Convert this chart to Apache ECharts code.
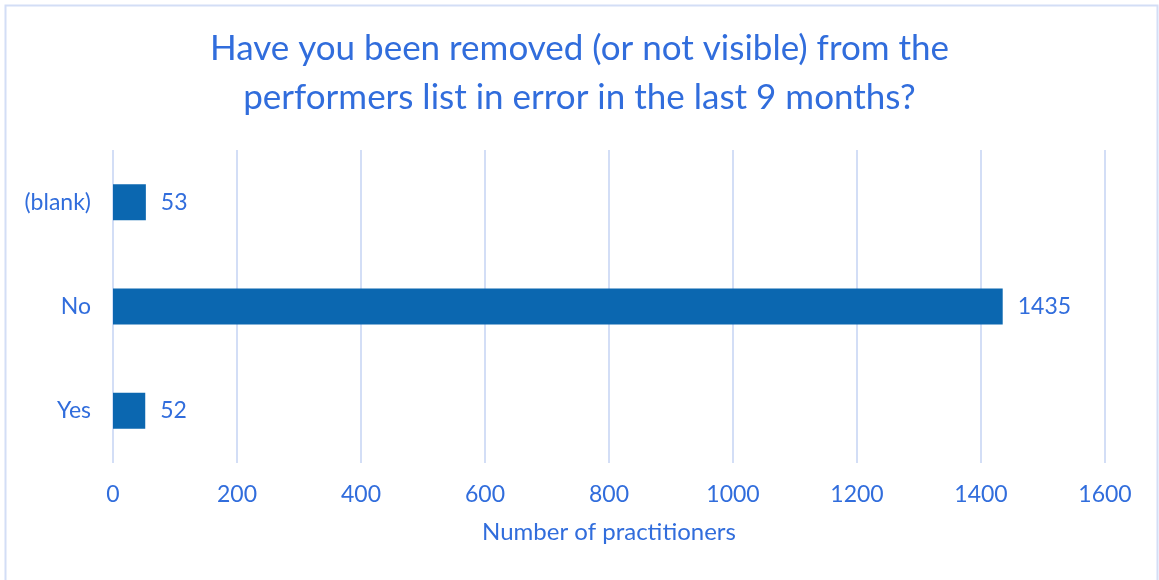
<html>
  <head>
    <meta charset="UTF-8" />
    <script src="https://cdn.jsdelivr.net/npm/echarts/dist/echarts.min.js"></script>
    <title>performers list</title>
    <style>
      body {
        margin: 0;
      }
      #main {
        width: 1159px;
        height: 580px;
      }
    </style>
  </head>
  <body>
    <div id="main"></div>
    <script>
      // data
      const categories = ['Yes', 'No', '(blank)'];
      const counts = [52, 1435, 53];
      const xTicks = [0, 200, 400, 600, 800, 1000, 1200, 1400, 1600];

      const textColor = '#316ddc';
      const barColor = '#0b67b0';
      const gridColor = '#d3def6';
      const font = 'Lato';

      var myChart = echarts.init(document.getElementById('main'));
      var option = {
        animation: false,
        textStyle: { fontFamily: font },
        title: {
          text: 'Have you been removed (or not visible) from the\nperformers list in error in the last 9 months?',
          left: 'center',
          top: 19,
          textStyle: {
            color: textColor,
            fontSize: 35,
            fontWeight: 'normal',
            fontFamily: font,
            lineHeight: 49
          }
        },
        graphic: [
          {
            type: 'rect',
            shape: { x: 5.5, y: 5.5, width: 1152, height: 600 },
            style: { fill: 'none', stroke: gridColor, lineWidth: 2 }
          }
        ],
        grid: { left: 113, right: 54, top: 150, bottom: 117 },
        xAxis: {
          type: 'value',
          min: xTicks[0],
          max: xTicks[xTicks.length - 1],
          interval: 200,
          name: 'Number of practitioners',
          nameLocation: 'middle',
          nameGap: 57,
          nameTextStyle: { color: textColor, fontSize: 24, fontFamily: font },
          axisLine: { show: false },
          axisTick: { show: false },
          axisLabel: {
            color: textColor,
            fontSize: 23,
            margin: 20,
            fontFamily: font,
            formatter: function (v) { return String(v); }
          },
          splitLine: { lineStyle: { color: gridColor, width: 2 } }
        },
        yAxis: {
          type: 'category',
          data: categories,
          axisLine: { show: false },
          axisTick: { show: false },
          axisLabel: { color: textColor, fontSize: 23, margin: 22, fontFamily: font }
        },
        series: [
          {
            type: 'bar',
            data: counts,
            barWidth: 36,
            itemStyle: { color: barColor },
            label: {
              show: true,
              position: 'right',
              distance: 15,
              color: textColor,
              fontSize: 23,
              fontFamily: font
            }
          }
        ]
      };
      myChart.setOption(option);
    </script>
  </body>
</html>
